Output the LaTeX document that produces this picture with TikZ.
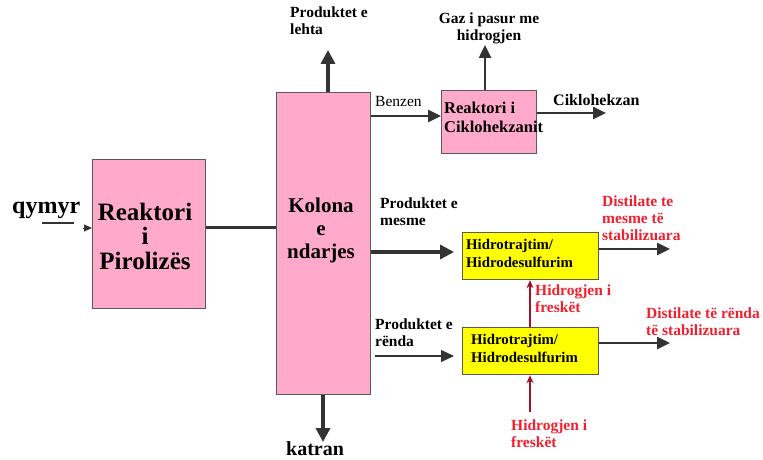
\documentclass[tikz,border=0pt]{standalone}
\usepackage{fontspec}
\setmainfont{Liberation Serif}
\usetikzlibrary{arrows.meta}
\definecolor{boxpink}{HTML}{FFAACB}
\definecolor{boxyellow}{HTML}{FFFF00}
\definecolor{edgegray}{HTML}{5A5A5A}
\definecolor{flowgray}{HTML}{333333}
\definecolor{labelred}{HTML}{F02030}
\definecolor{hydred}{HTML}{A0102A}
\tikzset{
  unit/.style={draw=edgegray, line width=1.2pt, fill=#1, inner sep=0pt, anchor=north west},
  flow/.style={draw=flowgray, line width=3.3pt, -{Triangle[length=14pt,width=14pt]}},
  thinflow/.style={draw=flowgray, line width=2.5pt, -{Triangle[length=13pt,width=12pt]}},
  hflow/.style={draw=hydred, line width=2pt, -{Stealth[length=8pt,width=7pt]}},
  lbl/.style={font=\bfseries\fontsize{15.5}{17}\selectfont, align=left, inner sep=0pt, anchor=west},
  redlbl/.style={lbl, text=labelred},
  big/.style={font=\bfseries\fontsize{25}{25}\selectfont, align=center, inner sep=0pt},
}
\begin{document}
\begin{tikzpicture}[x=1pt, y=-1pt]
\useasboundingbox (0,0) rectangle (763,460);

% process units
\node[unit=boxpink, minimum width=113pt, minimum height=149pt] (pyro) at (92,159) {};
\node[big] (pyrot) at (145,236) {Reaktori\\[-0.5pt]i\\[-0.5pt]Pirolizës};
\node[unit=boxpink, minimum width=94pt, minimum height=302pt] (col) at (276,92) {};
\node[font=\bfseries\fontsize{21}{23}\selectfont, align=center, inner sep=0pt] (colt) at (321,230) {Kolona\\e\\ndarjes};
\node[unit=boxpink, minimum width=95pt, minimum height=63pt] (cyc) at (441,90) {};
\node[lbl, font=\bfseries\fontsize{16.5}{19}\selectfont] (cyct) at (444,117) {Reaktori i\\Ciklohekzanit};
\node[unit=boxyellow, minimum width=136pt, minimum height=47pt] (hdt1) at (462,232) {};
\node[lbl, font=\bfseries\fontsize{14.8}{17.5}\selectfont] (hdt1t) at (466,253.5) {Hidrotrajtim/\\Hidrodesulfurim};
\node[unit=boxyellow, minimum width=136pt, minimum height=47pt] (hdt2) at (462,327) {};
\node[lbl, font=\bfseries\fontsize{14.8}{17.5}\selectfont] (hdt2t) at (471,348.5) {Hidrotrajtim/\\Hidrodesulfurim};

% feed
\node[big, font=\bfseries\fontsize{24}{24}\selectfont, anchor=west] (qymyr) at (12,210) {qymyr};
\coordinate (qa) at (42,223);
\coordinate (qb) at (74,223);
\coordinate (qc) at (83,228);
\draw[flowgray, line width=1.4pt] (qa) -- (qb);
\draw[flowgray, line width=1pt, -{Triangle[length=8pt,width=7pt]}] (qc) -- (qc -| pyro.west);

% pyrolysis to column
\draw[flowgray, line width=3pt] (pyro.east |- 0,227) -- (col.west |- 0,227);

% column top and bottom
\coordinate (lehtaend) at (328,50);
\draw[flow] (col.north -| lehtaend) -- (lehtaend);
\node[lbl, anchor=north west] (lehta) at (290,7) {Produktet e\\lehta};
\coordinate (katranend) at (323,442);
\draw[flow] (col.south -| katranend) -- (katranend);
\node[lbl, font=\bfseries\fontsize{20}{22}\selectfont] (katran) at (286,449) {katran};

% benzene to cyclohexane reactor
\draw[thinflow] (col.east |- 0,116) -- (cyc.west |- 0,116);
\node[lbl, font=\fontsize{15.5}{17}\selectfont] (benzen) at (375,102) {Benzen};
\coordinate (gazend) at (485,45);
\draw[thinflow] (cyc.north -| gazend) -- (gazend);
\node[lbl, align=center, anchor=center] (gaz) at (489,28) {Gaz i pasur me\\hidrogjen};
\coordinate (cykend) at (606,113);
\draw[thinflow] (cyc.east |- cykend) -- (cykend);
\node[lbl, font=\bfseries\fontsize{16}{18}\selectfont] (cyk) at (553,100) {Ciklohekzan};

% middle products
\coordinate (mesin) at (454,252);
\draw[flow] (col.east |- mesin) -- (mesin);
\node[lbl] (mesme) at (380,211.5) {Produktet e\\mesme};
\coordinate (mesout) at (670,249);
\draw[thinflow] (hdt1.east |- mesout) -- (mesout);
\node[redlbl] (distm) at (602,218) {Distilate te\\mesme të\\stabilizuara};

% heavy products
\coordinate (rendastart) at (375,356);
\coordinate (rendain) at (454,356);
\draw[draw=flowgray, line width=1.1pt, -{Triangle[length=13pt,width=12pt]}] (rendastart) -- (rendain);
\node[lbl] (renda) at (375,332.5) {Produktet e\\rënda};
\coordinate (rendout) at (670,343);
\draw[thinflow] (hdt2.east |- rendout) -- (rendout);
\node[redlbl] (distr) at (646,321.5) {Distilate të rënda\\të stabilizuara};

% fresh hydrogen
\draw[hflow] (hdt2.north -| 530,0) -- (hdt1.south -| 530,0);
\node[redlbl] (h2a) at (535,299) {Hidrogjen i\\freskët};
\coordinate (h2src) at (530,412);
\draw[hflow] (h2src) -- (hdt2.south -| h2src);
\node[redlbl] (h2b) at (511,433.5) {Hidrogjen i\\freskët};
\end{tikzpicture}
\end{document}
